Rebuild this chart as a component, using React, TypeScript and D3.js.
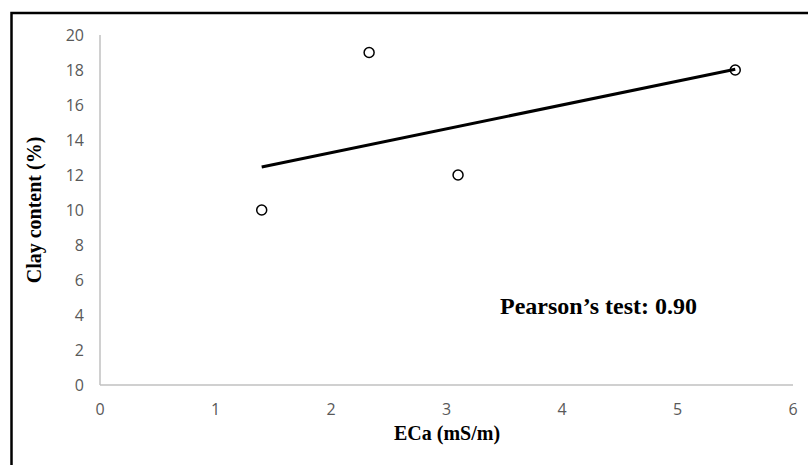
import React from "react";
import * as d3 from "d3";

const ecaValues = [1.4, 2.33, 3.1, 5.5];
const clayValues = [10, 19, 12, 18];
const xTicks = [0, 1, 2, 3, 4, 5, 6];
const yTicks = [0, 2, 4, 6, 8, 10, 12, 14, 16, 18, 20];
const xTitle = "ECa (mS/m)";
const yTitle = "Clay content (%)";
const annotation = "Pearson\u2019s test: 0.90";

export default function App() {
  const W = 808;
  const H = 465;
  const x = d3.scaleLinear().domain([0, 6]).range([100, 793]);
  const y = d3.scaleLinear().domain([0, 20]).range([385, 35]);

  const pts = ecaValues.map((v, i) => ({ x: v, y: clayValues[i] }));
  const mx = d3.mean(ecaValues) as number;
  const my = d3.mean(clayValues) as number;
  let sxy = 0, sxx = 0;
  pts.forEach((p) => {
    sxy += (p.x - mx) * (p.y - my);
    sxx += (p.x - mx) * (p.x - mx);
  });
  const slope = sxy / sxx;
  const intercept = my - slope * mx;
  const x0 = d3.min(ecaValues) as number;
  const x1 = d3.max(ecaValues) as number;
  const trend = [
    [x0, intercept + slope * x0],
    [x1, intercept + slope * x1],
  ] as [number, number][];
  const line = d3
    .line<[number, number]>()
    .x((d) => x(d[0]))
    .y((d) => y(d[1]));

  const tickFont = "'Open Sans', 'Liberation Sans', sans-serif";
  const titleFont = "'Liberation Serif', 'Times New Roman', serif";

  return (
    <svg
      width={W}
      height={H}
      style={{ position: "absolute", left: 0, top: 0, background: "#fff" }}
    >
      <rect x={0} y={0} width={W} height={H} fill="#fff" />
      <rect
        x={11.5}
        y={13}
        width={W + 20}
        height={H + 20}
        fill="none"
        stroke="#000"
        strokeWidth={2.5}
      />
      <line x1={x(0)} x2={x(0)} y1={y(20)} y2={y(0)} stroke="#c0c0c0" strokeWidth={1.5} />
      <line x1={x(0)} x2={x(6)} y1={y(0)} y2={y(0)} stroke="#c0c0c0" strokeWidth={1.5} />
      {yTicks.map((t) => (
        <text
          key={"y" + t}
          x={84}
          y={y(t)}
          dy="0.36em"
          textAnchor="end"
          fontFamily={tickFont}
          fontSize={16}
          fill="#595959"
        >
          {t}
        </text>
      ))}
      {xTicks.map((t) => (
        <text
          key={"x" + t}
          x={x(t)}
          y={415}
          textAnchor="middle"
          fontFamily={tickFont}
          fontSize={16}
          fill="#595959"
        >
          {t}
        </text>
      ))}
      <path d={line(trend) || ""} fill="none" stroke="#000" strokeWidth={3} />
      {pts.map((p, i) => (
        <circle
          key={i}
          cx={x(p.x)}
          cy={y(p.y)}
          r={5}
          fill="none"
          stroke="#000"
          strokeWidth={1.5}
        />
      ))}
      <text
        x={447}
        y={440}
        textAnchor="middle"
        fontFamily={titleFont}
        fontWeight="bold"
        fontSize={20}
        fill="#000"
      >
        {xTitle}
      </text>
      <text
        transform={`translate(41,210) rotate(-90)`}
        textAnchor="middle"
        fontFamily={titleFont}
        fontWeight="bold"
        fontSize={20}
        fill="#000"
      >
        {yTitle}
      </text>
      <text
        x={500}
        y={314}
        fontFamily={titleFont}
        fontWeight="bold"
        fontSize={24}
        fill="#000"
      >
        {annotation}
      </text>
    </svg>
  );
}
